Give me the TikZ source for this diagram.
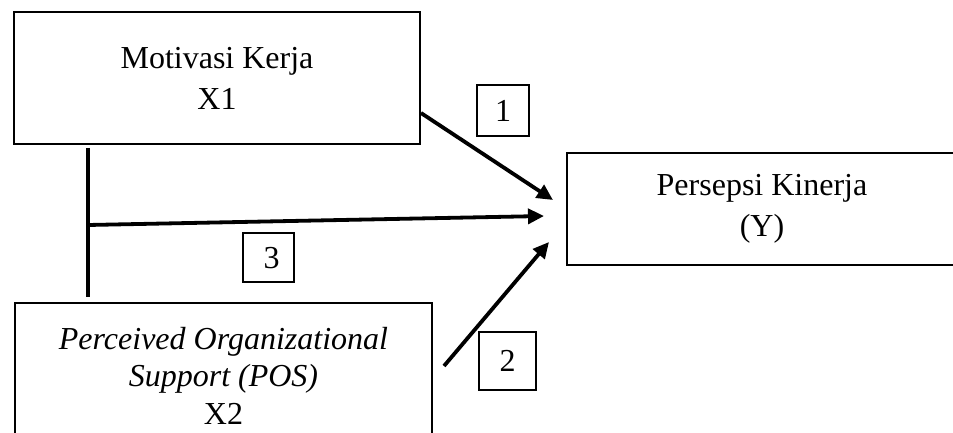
\documentclass[tikz,border=0pt]{standalone}
\usepackage{fontspec}
\setmainfont{Liberation Serif}
\usetikzlibrary{arrows.meta,positioning}

\begin{document}
\begin{tikzpicture}[x=1pt,y=1pt]
                \tikzstyle{every node}+=[font=\fontsize{32}{41}\selectfont]
                \tikzstyle{varbox}=[draw=black, line width=1.8pt, align=center, inner sep=0pt]
                \tikzstyle{numbox}=[draw=black, line width=1.4pt, inner sep=0pt]
                \tikzstyle{path}=[black, line width=3.8pt, -{Triangle[length=16pt,width=15pt]}]
                \useasboundingbox (0,0) rectangle (953,-433);
                \clip (0,0) rectangle (953,-433);
                % variabel
                \node [varbox, minimum width=406pt, minimum height=132pt] (x1) at (217,-78) {Motivasi Kerja\\X1};
                \node [varbox, minimum width=390pt, minimum height=112pt] (y) at (762,-209) {Persepsi Kinerja\\(Y)};
                \node [varbox, anchor=north, minimum width=417pt, inner ysep=24pt, font=\fontsize{32}{37.5}\selectfont] (x2) at (223.5,-302) {\textit{Perceived Organizational}\\\textit{Support (POS)}\\X2};
                % nomor jalur
                \node [numbox, minimum width=52pt, minimum height=51pt] (n1) at (503,-110.5) {1};
                \node [numbox, minimum width=57pt, minimum height=58pt] (n2) at (507.5,-361) {2};
                \node [numbox, minimum width=51pt, minimum height=49pt, text depth=-6pt] (n3) at (268.5,-257.5) {\hspace{6pt}3};
                % titik ujung jalur
                \coordinate (p1) at (421,-113);
                \coordinate (t1) at (553,-200);
                \coordinate (vtop) at (88,-148);
                \coordinate (vbot) at (88,-297);
                \coordinate (p3) at (88,-225);
                \coordinate (t3) at (544,-216);
                \coordinate (p2) at (444,-366);
                \coordinate (t2) at (549,-242);
                % jalur
                \draw [path] (p1) -- (t1);
                \draw [black, line width=3.4pt] (vtop) -- (vbot);
                \draw [path] (p3) -- (t3);
                \draw [path] (p2) -- (t2);
\end{tikzpicture}
\end{document}
